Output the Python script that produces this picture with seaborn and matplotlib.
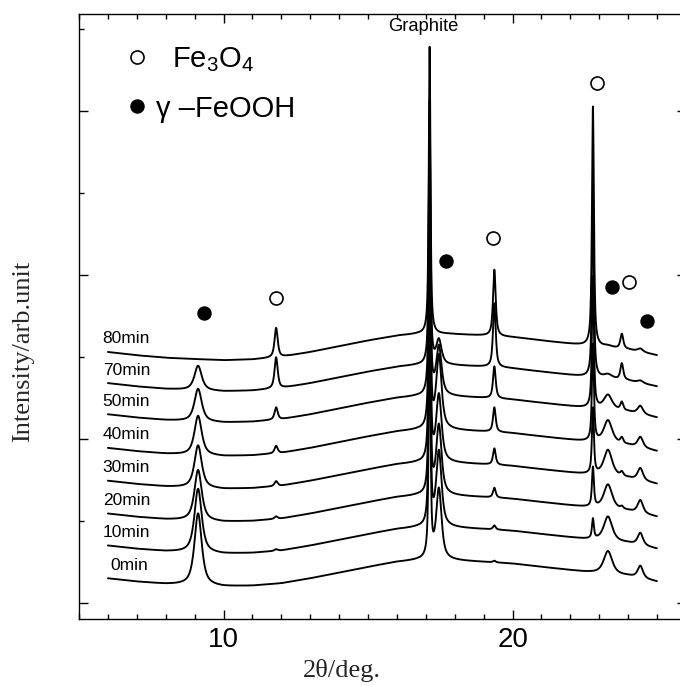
import numpy as np
import pandas as pd
import seaborn as sns
import matplotlib.pyplot as plt
from matplotlib.ticker import MultipleLocator, NullFormatter
from matplotlib.lines import Line2D

# sampling times of the XRD patterns (bottom to top)
times = ["0min", "10min", "20min", "30min", "40min", "50min", "70min", "80min"]
# vertical offset of each trace (baseline value at 2theta = 6)
offsets = [0.30, 0.70, 1.09, 1.49, 1.89, 2.30, 2.68, 3.06]

bg_x = [6, 7, 8, 8.6, 10, 11, 12, 13, 14, 15, 16, 16.7, 17.8, 19, 20, 21, 22, 22.5, 24, 25]
bg_y = [0, -0.04, -0.07, -0.08, -0.10, -0.09, -0.06, 0.0, 0.07, 0.14, 0.20, 0.22, 0.22,
        0.20, 0.18, 0.14, 0.10, 0.08, 0.03, -0.04]

# peak positions (2theta) and widths (FWHM, deg.)
peak_pos = [9.12, 11.82, 17.13, 17.45, 19.37, 22.78, 23.30, 23.78, 24.42]
peak_fwhm = [0.30, 0.13, 0.07, 0.22, 0.11, 0.08, 0.35, 0.12, 0.22]

# peak heights for each trace (same order as times)
h_9_1 = [0.88, 0.78, 0.62, 0.52, 0.48, 0.40, 0.30, 0.0]
h_11_8 = [0.0, 0.02, 0.03, 0.06, 0.09, 0.15, 0.38, 0.36]
h_17_1 = [3.2, 3.3, 3.2, 3.3, 3.2, 3.3, 3.2, 3.5]
h_17_4 = [0.86, 0.92, 0.85, 0.82, 0.90, 0.60, 0.30, 0.0]
h_19_4 = [0.02, 0.05, 0.12, 0.20, 0.30, 0.39, 0.78, 0.81]
h_22_8 = [0.0, 0.24, 0.48, 0.80, 1.18, 1.60, 2.20, 2.92]
h_23_3 = [0.28, 0.30, 0.30, 0.32, 0.28, 0.18, 0.05, 0.02]
h_23_8 = [0.0, 0.0, 0.03, 0.05, 0.07, 0.10, 0.20, 0.18]
h_24_4 = [0.15, 0.15, 0.16, 0.15, 0.13, 0.10, 0.03, 0.04]
heights = [h_9_1, h_11_8, h_17_1, h_17_4, h_19_4, h_22_8, h_23_3, h_23_8, h_24_4]

# phase markers
fe3o4_x = [11.8, 19.31, 22.92, 24.03]
fe3o4_y = [3.72, 4.45, 6.34, 3.91]
feooh_x = [9.31, 17.71, 23.44, 24.65]
feooh_y = [3.54, 4.17, 3.85, 3.44]


def pvoigt(x, x0, h, fwhm, eta=0.75):
    g = fwhm / 2
    lor = g**2 / (g**2 + (x - x0)**2)
    gau = np.exp(-np.log(2) * ((x - x0) / g)**2)
    return h * (eta * lor + (1 - eta) * gau)


tt = np.arange(6.0, 25.0, 0.005)
rows = []
for i, t in enumerate(times):
    y = offsets[i] + np.interp(tt, bg_x, bg_y)
    for p, w, hs in zip(peak_pos, peak_fwhm, heights):
        if hs[i] > 0:
            y = y + pvoigt(tt, p, hs[i], w)
    rows.append(pd.DataFrame({"two_theta": tt, "intensity": y, "time": t}))
df = pd.concat(rows, ignore_index=True)

sns.set_style("ticks", {"axes.edgecolor": "black", "xtick.color": "black",
                        "ytick.color": "black", "text.color": "black"})
plt.rcParams["font.family"] = ["Liberation Sans", "DejaVu Sans"]
plt.rcParams["mathtext.fontset"] = "custom"
plt.rcParams["mathtext.rm"] = "Liberation Sans"
plt.rcParams["mathtext.it"] = "Liberation Sans:italic"

fig = plt.figure(figsize=(6.8, 6.86), dpi=100)
ax = fig.add_axes([79 / 680, 1 - 619 / 686, (686 - 79) / 680, (619 - 14) / 686])

sns.lineplot(data=df, x="two_theta", y="intensity", units="time", estimator=None,
             sort=False, color="black", linewidth=1.35, ax=ax, legend=False)

sns.scatterplot(x=fe3o4_x, y=fe3o4_y, marker="o", s=88, facecolor="white",
                edgecolor="black", linewidth=1.2, ax=ax, zorder=5)
sns.scatterplot(x=feooh_x, y=feooh_y, marker="o", s=88, color="black",
                edgecolor="black", linewidth=1.0, ax=ax, zorder=5)

for i, t in enumerate(times):
    xpos = 6.1 if t == "0min" else 5.82
    ax.text(xpos, offsets[i] + 0.16, t, fontsize=12.5, va="center", ha="left")

ax.text(16.9, 7.03, "Graphite", fontsize=13.2, ha="center", va="center")

handles = [
    Line2D([], [], ls="", marker="o", ms=9.4, mfc="white", mec="black", mew=1.2,
           label=r"  Fe$_3$O$_4$"),
    Line2D([], [], ls="", marker="o", ms=9.4, mfc="black", mec="black",
           label="\u03b3 \u2013FeOOH"),
]
ax.legend(handles=handles, loc="upper left", bbox_to_anchor=(0.072, 0.949),
          frameon=False, fontsize=21, handlelength=1.0, handletextpad=0.13,
          borderaxespad=0, borderpad=0, labelspacing=0.72)

ax.set_xlim(5, 26)
ax.set_ylim(-0.195, 7.18)
ax.xaxis.set_major_locator(MultipleLocator(10))
ax.xaxis.set_minor_locator(MultipleLocator(1))
ax.yaxis.set_major_locator(MultipleLocator(2))
ax.yaxis.set_minor_locator(MultipleLocator(1))
ax.yaxis.set_major_formatter(NullFormatter())
ax.tick_params(which="both", direction="in", top=True, right=True, width=1.0,
               color="black")
ax.tick_params(which="major", length=6.5, labelsize=20, pad=6)
ax.tick_params(which="minor", length=3.5)
for s in ax.spines.values():
    s.set_linewidth(1.0)
    s.set_color("black")

ax.set_xlabel("2\u03b8/deg.", family="Liberation Serif", fontsize=19)
ax.set_ylabel("Intensity/arb.unit", family="Liberation Serif", fontsize=19)
ax.xaxis.set_label_coords(0.433, -0.066)
ax.yaxis.set_label_coords(-0.074, 0.443)

fig.savefig("out.png", dpi=100)
